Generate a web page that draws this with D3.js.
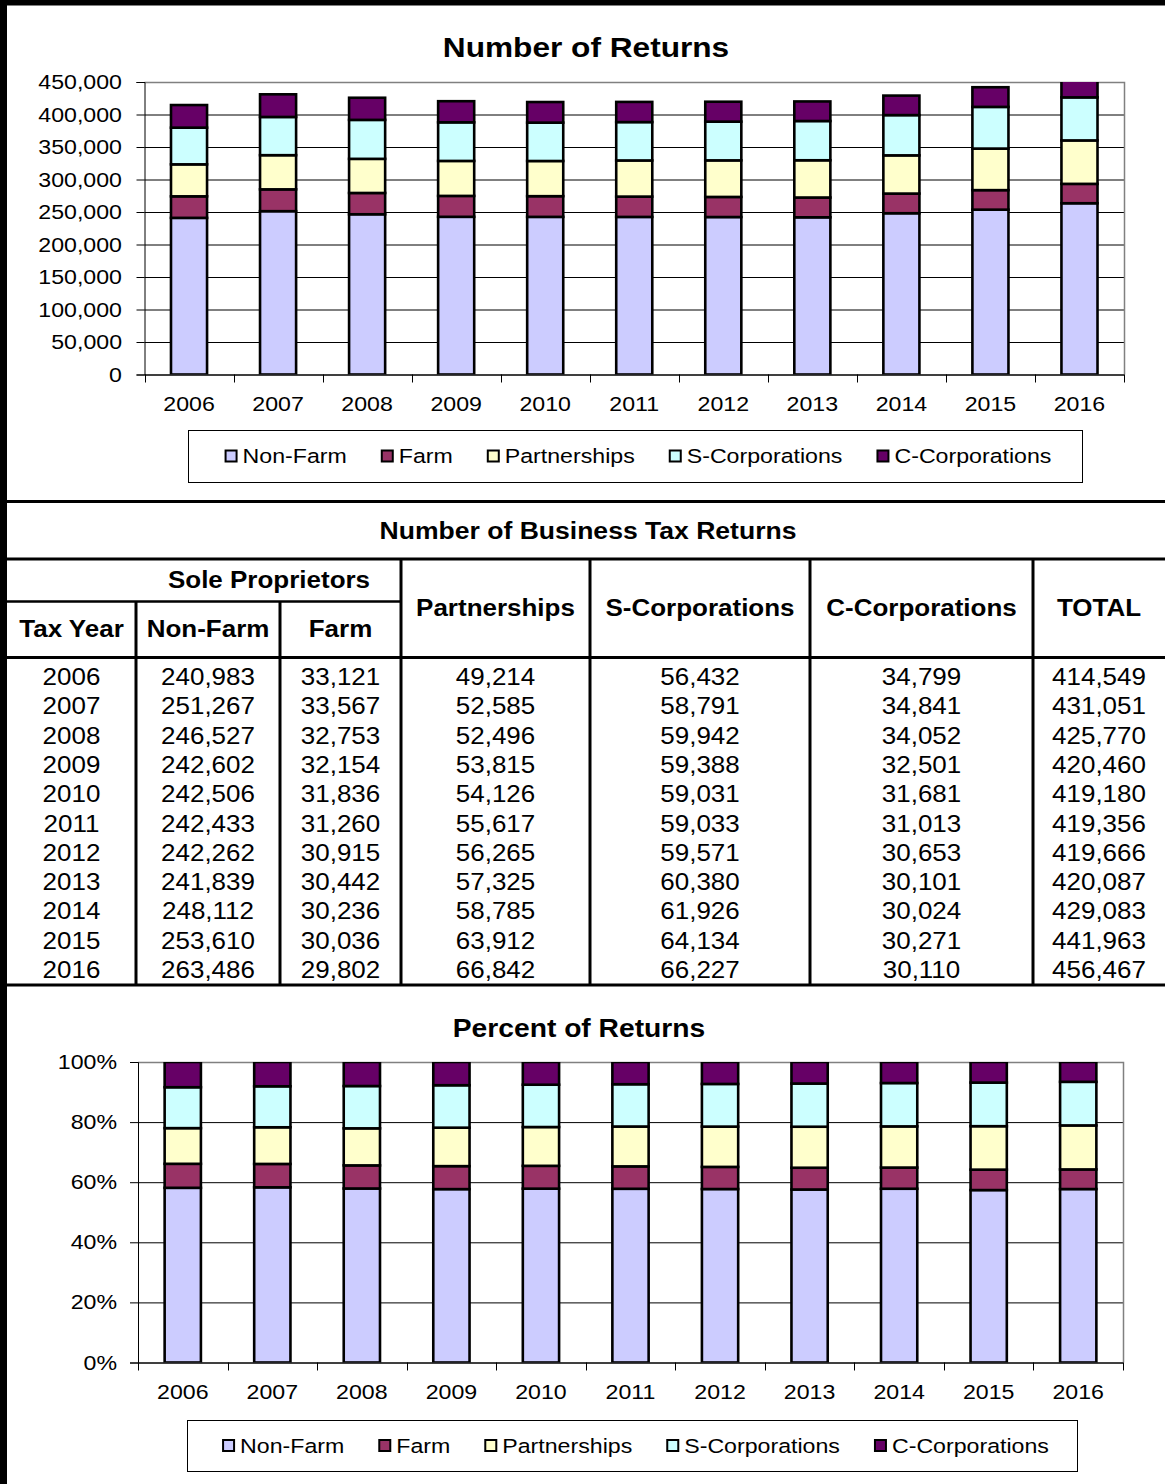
<!DOCTYPE html>
<html>
<head>
<meta charset="utf-8">
<script src="https://cdn.jsdelivr.net/npm/d3@7"></script>
<style>
  body { margin: 0; background: #fff; }
  svg { display: block; font-family: "Liberation Sans", Arial, sans-serif; }
</style>
</head>
<body>
<div id="page"></div>
<script>
// Data
const years = ["2006", "2007", "2008", "2009", "2010", "2011", "2012", "2013", "2014", "2015", "2016"];
const nonFarm = [240983, 251267, 246527, 242602, 242506, 242433, 242262, 241839, 248112, 253610, 263486];
const farm = [33121, 33567, 32753, 32154, 31836, 31260, 30915, 30442, 30236, 30036, 29802];
const partnerships = [49214, 52585, 52496, 53815, 54126, 55617, 56265, 57325, 58785, 63912, 66842];
const sCorps = [56432, 58791, 59942, 59388, 59031, 59033, 59571, 60380, 61926, 64134, 66227];
const cCorps = [34799, 34841, 34052, 32501, 31681, 31013, 30653, 30101, 30024, 30271, 30110];
const totals = [414549, 431051, 425770, 420460, 419180, 419356, 419666, 420087, 429083, 441963, 456467];

const seriesKeys = ["nonFarm", "farm", "partnerships", "sCorps", "cCorps"];
const seriesNames = ["Non-Farm", "Farm", "Partnerships", "S-Corporations", "C-Corporations"];
const colors = ["#ccccff", "#993366", "#ffffcc", "#ccffff", "#660066"];
const countTicks = [0, 50000, 100000, 150000, 200000, 250000, 300000, 350000, 400000, 450000];
const percentTicks = [0, 0.2, 0.4, 0.6, 0.8, 1];

const rows = years.map((year, i) => ({
  year,
  nonFarm: nonFarm[i],
  farm: farm[i],
  partnerships: partnerships[i],
  sCorps: sCorps[i],
  cCorps: cCorps[i],
}));

// text in the original is a little wider than Arial, stretch it
const SX = 1.13;
const colorScale = d3.scaleOrdinal().domain(seriesKeys).range(colors);

const svg = d3
  .select("#page")
  .append("svg")
  .attr("width", 1165)
  .attr("height", 1484);

svg.append("rect").attr("width", 1165).attr("height", 1484).attr("fill", "#fff");

function label(parent, x, y, text, { size, weight = "normal", anchor = "middle" }) {
  return parent
    .append("text")
    .attr("transform", `translate(${x},${y}) scale(${SX},1)`)
    .attr("text-anchor", anchor)
    .attr("dy", "0.35em")
    .attr("font-size", size)
    .attr("font-weight", weight)
    .attr("fill", "#000")
    .text(text);
}

// Stacked bar chart
function renderChart(cfg) {
  const g = svg.append("g");
  const x = d3.scaleBand().domain(years).range([cfg.left, cfg.right]);
  const y = d3.scaleLinear().domain(cfg.domain).range([cfg.bottom, cfg.top]);
  const barW = x.bandwidth() * 0.405;

  const stack = d3.stack().keys(seriesKeys);
  if (cfg.expand) stack.offset(d3.stackOffsetExpand);
  const stacked = stack(rows);

  // Title
  label(g, cfg.titleX, cfg.titleY, cfg.title, { size: cfg.titleSize, weight: "bold" });

  // Gridlines
  const grid = g
    .append("g")
    .attr("transform", `translate(${cfg.left},0)`)
    .call(
      d3.axisLeft(y).tickValues(cfg.ticks).tickSize(-(cfg.right - cfg.left)).tickFormat("")
    );
  grid.select(".domain").remove();
  grid.selectAll("line").attr("stroke", "#000");

  // Plot border
  g.append("path")
    .attr(
      "d",
      `M${cfg.left},${Math.round(cfg.top) + 0.5}H${Math.round(cfg.right) + 0.5}V${cfg.bottom}`
    )
    .attr("fill", "none")
    .attr("stroke", "#808080")
    .attr("stroke-width", 1.5);

  // Bars
  const clipId = "clip-" + cfg.id;
  g.append("clipPath")
    .attr("id", clipId)
    .append("rect")
    .attr("x", cfg.left)
    .attr("y", cfg.top)
    .attr("width", cfg.right - cfg.left)
    .attr("height", cfg.bottom - cfg.top);

  g.append("g")
    .attr("clip-path", `url(#${clipId})`)
    .selectAll("g")
    .data(stacked)
    .join("g")
    .attr("fill", (d) => colorScale(d.key))
    .selectAll("rect")
    .data((d) => d)
    .join("rect")
    .attr("x", (d) => x(d.data.year) + (x.bandwidth() - barW) / 2)
    .attr("width", barW)
    .attr("y", (d) => y(d[1]))
    .attr("height", (d) => y(d[0]) - y(d[1]))
    .attr("stroke", "#000")
    .attr("stroke-width", 2.6);

  // Y axis
  const yAxis = g
    .append("g")
    .attr("transform", `translate(${cfg.left},0)`)
    .call(
      d3.axisLeft(y).tickValues(cfg.ticks).tickSize(8).tickPadding(14).tickFormat(cfg.format)
    )
    .attr("font-size", null)
    .attr("font-family", null);
  yAxis.select(".domain").attr("stroke", "#000");
  yAxis.selectAll("line").attr("stroke", "#000");
  yAxis
    .selectAll("text")
    .attr("x", -cfg.labelGap / SX)
    .attr("transform", `scale(${SX},1)`)
    .attr("font-size", 20.5)
    .attr("fill", "#000");

  // X axis
  const xAxis = g
    .append("g")
    .attr("transform", `translate(0,${cfg.bottom})`)
    .call(d3.axisBottom(x).tickSize(0).tickPadding(22))
    .attr("font-size", null)
    .attr("font-family", null);
  xAxis.select(".domain").attr("stroke", "#000");
  xAxis
    .selectAll("text")
    .attr("transform", `scale(${SX},1)`)
    .attr("font-size", 20.5)
    .attr("fill", "#000");
  g.append("g")
    .selectAll("line")
    .data(years.map((d) => x(d)).concat([cfg.right]))
    .join("line")
    .attr("x1", (d) => Math.round(d) + 0.5)
    .attr("x2", (d) => Math.round(d) + 0.5)
    .attr("y1", cfg.bottom)
    .attr("y2", cfg.bottom + 8)
    .attr("stroke", "#000");

  // Legend
  const lb = cfg.legend;
  g.append("rect")
    .attr("x", lb.x + 0.5)
    .attr("y", lb.y + 0.5)
    .attr("width", lb.w)
    .attr("height", lb.h)
    .attr("fill", "#fff")
    .attr("stroke", "#000");
  const items = g.append("g");
  const cy = lb.y + lb.h / 2;
  const widths = [];
  seriesNames.forEach((name, i) => {
    const t = label(items, 0, cy, name, { size: 20.5, anchor: "start" });
    widths.push(t.node().getComputedTextLength() * SX);
    t.remove();
  });
  const gap = 34;
  const total = d3.sum(widths) + seriesNames.length * 18 + gap * (seriesNames.length - 1);
  let cx = lb.center - total / 2;
  seriesNames.forEach((name, i) => {
    items
      .append("rect")
      .attr("x", cx + 1)
      .attr("y", cy - 5.5)
      .attr("width", 11)
      .attr("height", 11)
      .attr("fill", colors[i])
      .attr("stroke", "#000")
      .attr("stroke-width", 2);
    label(items, cx + 18, cy, name, { size: 20.5, anchor: "start" });
    cx += 18 + widths[i] + gap;
  });
}

renderChart({
  id: "count",
  left: 144.5,
  right: 1124,
  top: 82,
  bottom: 374.5,
  domain: [0, 450000],
  ticks: countTicks,
  format: d3.format(","),
  labelGap: 22.5,
  title: "Number of Returns",
  titleX: 586,
  titleY: 47,
  titleSize: 28,
  legend: { x: 188, y: 430, w: 894, h: 52, center: 638 },
});

renderChart({
  id: "percent",
  expand: true,
  left: 138,
  right: 1123,
  top: 1062,
  bottom: 1362.5,
  domain: [0, 1],
  ticks: percentTicks,
  format: d3.format(".0%"),
  labelGap: 21,
  title: "Percent of Returns",
  titleX: 579,
  titleY: 1028,
  titleSize: 25,
  legend: { x: 187, y: 1420, w: 890, h: 51, center: 635.5 },
});

// Table
function renderTable() {
  const g = svg.append("g");
  const colX = [7, 136, 280, 401, 590, 810, 1033, 1165];
  const rowY = d3.scalePoint().domain(years).range([677, 970]);
  const mid = (i) => (colX[i] + colX[i + 1]) / 2;

  const thick = 3;
  const hLines = [
    { y: 501.5, x1: 0, x2: 1165, w: thick },
    { y: 559, x1: 7, x2: 1165, w: thick },
    { y: 601.5, x1: 7, x2: 401, w: 2.5 },
    { y: 657.5, x1: 7, x2: 1165, w: thick },
    { y: 985, x1: 7, x2: 1165, w: thick },
  ];
  g.selectAll(".h")
    .data(hLines)
    .join("line")
    .attr("x1", (d) => d.x1)
    .attr("x2", (d) => d.x2)
    .attr("y1", (d) => d.y)
    .attr("y2", (d) => d.y)
    .attr("stroke", "#000")
    .attr("stroke-width", (d) => d.w);

  const vLines = [
    { x: colX[1], y1: 601.5 },
    { x: colX[2], y1: 601.5 },
    { x: colX[3], y1: 559 },
    { x: colX[4], y1: 559 },
    { x: colX[5], y1: 559 },
    { x: colX[6], y1: 559 },
  ];
  g.selectAll(".v")
    .data(vLines)
    .join("line")
    .attr("x1", (d) => d.x)
    .attr("x2", (d) => d.x)
    .attr("y1", (d) => d.y1)
    .attr("y2", 985)
    .attr("stroke", "#000")
    .attr("stroke-width", thick);

  label(g, 588, 530.5, "Number of Business Tax Returns", { size: 23.5, weight: "bold" });
  label(g, 269, 580, "Sole Proprietors", { size: 23, weight: "bold" });
  label(g, mid(0), 629, "Tax Year", { size: 23, weight: "bold" });
  label(g, mid(1), 629, "Non-Farm", { size: 23, weight: "bold" });
  label(g, mid(2), 629, "Farm", { size: 23, weight: "bold" });
  ["Partnerships", "S-Corporations", "C-Corporations", "TOTAL"].forEach((h, i) =>
    label(g, mid(i + 3), 608, h, { size: 23, weight: "bold" })
  );

  const fmt = d3.format(",");
  const columns = [years, nonFarm, farm, partnerships, sCorps, cCorps, totals];
  columns.forEach((col, c) => {
    col.forEach((v, r) => {
      label(g, mid(c), rowY(years[r]), c === 0 ? v : fmt(v), { size: 23 });
    });
  });
}
renderTable();

// Frame
svg.append("rect").attr("x", 0).attr("y", 0).attr("width", 7).attr("height", 1484).attr("fill", "#000");
svg.append("rect").attr("x", 0).attr("y", 0).attr("width", 1165).attr("height", 5.5).attr("fill", "#000");
</script>
</body>
</html>
